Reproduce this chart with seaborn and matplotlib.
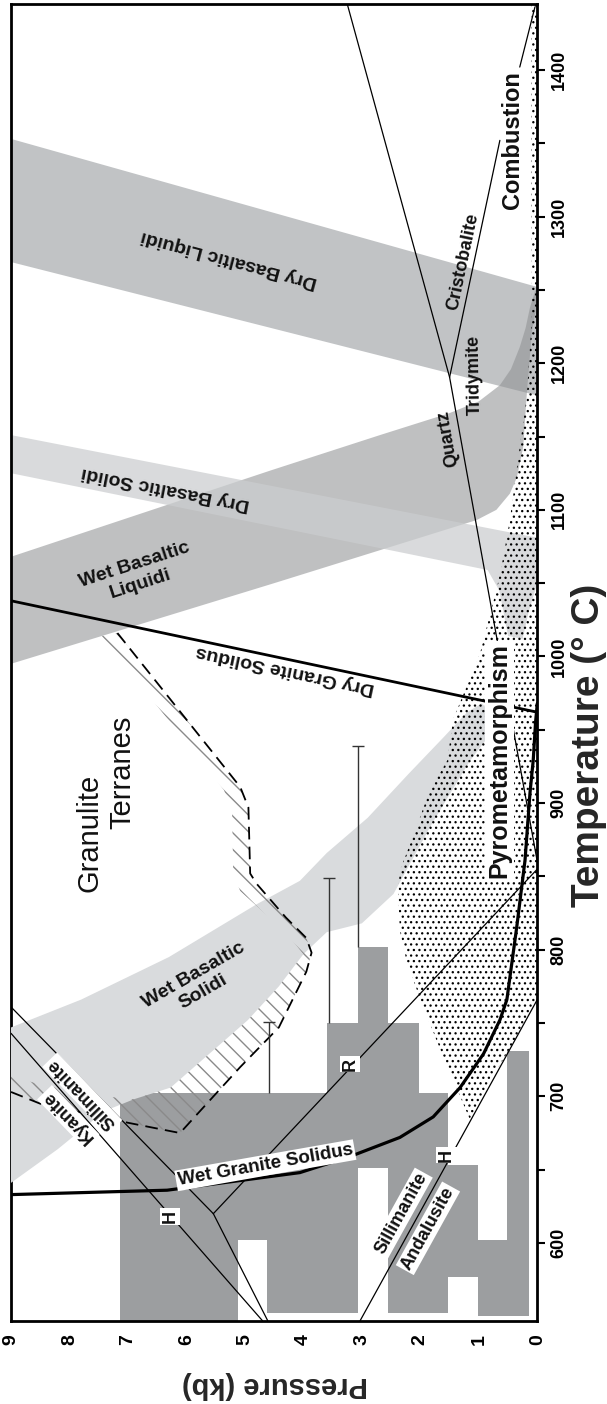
import matplotlib
matplotlib.use("Agg")
import matplotlib.pyplot as plt
import seaborn as sns

# Axis ticks
p_ticks = [0, 1, 2, 3, 4, 5, 6, 7, 8, 9]
p_labels = ["0", "1", "2", "3", "4", "5", "6", "7", "8", "9"]
t_ticks = [600, 650, 700, 750, 800, 850, 900, 950, 1000, 1050, 1100, 1150, 1200, 1250, 1300, 1350, 1400]
t_labels = ["600", "", "700", "", "800", "", "900", "", "1000", "", "1100", "", "1200", "", "1300", "", "1400"]

# Bands (pressure in kb, temperature in C)
dry_liq_p = [9, 0, 0, 9]
dry_liq_t = [1353, 1252, 1178, 1269]

wet_liq_p = [9, 4.55, 2.69, 1.5, 1.0, 0.64, 0.45, 0.30, 0.20, 0.125, 0.04, 0.0,
             0.03, 0.09, 0.18, 0.24, 0.35, 0.47, 0.7, 1.04, 4.5, 9]
wet_liq_t = [1068, 1127, 1151, 1166, 1174, 1185, 1196, 1211, 1224, 1238, 1249, 1252,
             1235, 1222, 1179, 1143, 1122, 1111, 1100, 1093, 1050, 995]

dry_sol_p = [9, 0.0, 0.0, 0.15, 0.25, 0.5, 0.65, 0.85, 9]
dry_sol_t = [1151, 1081, 1050, 1030, 1012, 1014, 1045, 1059, 1125]

wet_sol_p = [9, 7.8, 6.3, 4.8, 4.06, 3.6, 2.9, 2.2, 1.6, 1.2, 0.95, 0.8, 0.75,
             0.9, 1.15, 1.83, 2.46, 3.0, 3.6, 4.0, 4.42, 4.95, 5.61, 6.27, 6.9, 7.4, 8.2, 9]
wet_sol_t = [747, 766, 795, 831, 847, 866, 890, 920, 945, 962, 968, 962, 950,
             942, 929, 884, 838, 818, 812, 797, 775, 752, 729, 706, 698, 690, 664, 641]

# Granulite terranes boundary (dashed) and hatched strip
dash_p = [7.18, 5.08, 4.94, 4.91, 4.80, 4.3, 3.95, 3.86, 3.95, 4.42, 5.08, 6.11, 7.0, 8.5, 9.0]
dash_t = [1016, 911, 897, 852, 845, 822, 808, 798, 785, 747, 720, 675, 682, 695, 703]
inner_p = [7.45, 5.36, 5.22, 5.2, 5.08, 4.3, 4.0, 4.42, 4.95, 5.61, 6.27, 6.9, 7.4, 8.5, 9.0]
inner_t = [1014, 909, 895, 852, 840, 812, 797, 775, 752, 729, 706, 698, 700, 708, 714]

# Pyrometamorphism / combustion stippled field
stip_p = [0, 0.10, 0.10, 0.09, 0.18, 0.30, 0.47, 0.59, 0.69, 0.98, 1.44, 1.54, 1.84, 2.06,
          2.35, 2.38, 2.35, 2.24, 2.0, 1.66, 1.15, 0.81, 0.38, 0]
stip_t = [1445, 1445, 1311, 1234, 1177, 1143, 1093, 1066, 1047, 1002, 957, 929, 909, 884,
          854, 839, 813, 793, 766, 732, 684, 711, 738, 766]

# Histogram blocks
bar_left = [7.13, 5.12, 4.62, 4.06, 3.59, 3.06, 2.55, 2.03, 1.52, 1.01, 0.52]
bar_right = [5.12, 4.62, 4.06, 3.59, 3.06, 2.55, 2.03, 1.52, 1.01, 0.52, 0.15]
bar_bottom = [547, 602, 552, 552, 552, 651, 552, 552, 577, 550, 550]
bar_top = [702, 702, 702, 702, 750, 802, 750, 702, 653, 602, 731]

# Range whiskers
wh_p = [4.58, 3.57, 3.06]
wh_lo = [702, 750, 802]
wh_hi = [751, 849, 939]

# Solidus curves
wet_gran_p = [9, 6.33, 4.06, 3.20, 2.35, 1.78, 1.32, 0.92, 0.64, 0.52, 0.35, 0.21, 0.125, 0.07, 0.03, 0.0]
wet_gran_t = [633, 636, 648, 659, 672, 686, 706, 729, 752, 766, 816, 861, 907, 929, 955, 968]
dry_gran_p = [9, 0]
dry_gran_t = [1038, 962]

# Silica phase boundaries
qc_p, qc_t = [3.25, 1.50], [1445, 1190.5]
qt_p, qt_t = [1.50, 0.0], [1190.5, 860]
tc_p, tc_t = [1.50, 0.64], [1190.5, 1352]

# Aluminosilicate boundaries (R and H)
r_kysil_p, r_kysil_t = [9, 5.54], [761, 620]
r_kyand_p, r_kyand_t = [5.54, 4.61], [620, 547]
r_andsil_p, r_andsil_t = [5.54, 0], [620, 855]
h_kysil_p, h_kysil_t = [9, 4.70], [743, 547]
h_andsil_p, h_andsil_t = [3.03, 0], [547, 766]

comb_p, comb_t = [0.30, 0.04], [1402, 1443]

sns.set_style("white")
plt.rcParams["font.family"] = ["Liberation Sans", "DejaVu Sans"]

fig = plt.figure(figsize=(6.07, 14.04), dpi=100)
ax = fig.add_axes([11 / 607, 1 - 1320.7 / 1404, 526.3 / 607, 1316.7 / 1404])

# Bands
ax.fill(dry_liq_p, dry_liq_t, color="#c1c3c5", lw=0, zorder=1)
ax.fill(wet_liq_p, wet_liq_t, color="#8f9193", alpha=0.57, lw=0, zorder=1.5)
ax.fill(dry_sol_p, dry_sol_t, color="#cbcdcf", alpha=0.73, lw=0, zorder=1.8)

# Histogram blocks
centers = [(a + b) / 2 for a, b in zip(bar_left, bar_right)]
widths = [a - b for a, b in zip(bar_left, bar_right)]
heights = [t - b for t, b in zip(bar_top, bar_bottom)]
ax.bar(centers, heights, width=widths, bottom=bar_bottom, color="#9c9ea0", lw=0, zorder=2.5)

ax.fill(wet_sol_p, wet_sol_t, color="#d9dbdd", lw=0, zorder=3)

plt.rcParams["hatch.linewidth"] = 1.0
ax.fill(dash_p + inner_p[::-1], dash_t + inner_t[::-1], facecolor="none",
        edgecolor="#8a8a8a", hatch="\\\\", lw=0, zorder=3.5)
plt.rcParams["hatch.linewidth"] = 0.9
ax.fill(stip_p, stip_t, facecolor="none", edgecolor="black", hatch="...", lw=0, zorder=4)

# Lines
thin = dict(color="black", lw=0.9, zorder=5)
for xs, ys in [(qc_p, qc_t), (qt_p, qt_t), (tc_p, tc_t), (r_kysil_p, r_kysil_t),
               (r_kyand_p, r_kyand_t), (r_andsil_p, r_andsil_t), (h_kysil_p, h_kysil_t),
               (h_andsil_p, h_andsil_t), (comb_p, comb_t)]:
    sns.lineplot(x=xs, y=ys, sort=False, estimator=None, ax=ax, **thin)

sns.lineplot(x=wet_gran_p, y=wet_gran_t, sort=False, estimator=None, ax=ax, color="black", lw=2.3, zorder=5)
sns.lineplot(x=dry_gran_p, y=dry_gran_t, sort=False, estimator=None, ax=ax, color="black", lw=2.0, zorder=5)
ax.plot(dash_p, dash_t, color="black", lw=1.3, linestyle=(0, (7, 4)), zorder=5)

ax.vlines(wh_p, wh_lo, wh_hi, color="#333333", lw=1.0, zorder=5)
ax.plot(wh_p, wh_hi, ls="none", marker="_", ms=8, mew=1.0, color="#333333", zorder=5)


def label(p, t, s, rot=0, size=14, weight="bold", box=False):
    bbox = dict(boxstyle="square,pad=0.1", fc="white", ec="none") if box else None
    ax.text(p, t, s, rotation=rot, rotation_mode="anchor", ha="center", va="center",
            fontsize=size, fontweight=weight, color="#111111", bbox=bbox, zorder=7)


label(5.27, 1271, "Dry Basaltic Liquidi", rot=165)
label(6.36, 1115, "Dry Basaltic Solidi", rot=169)
label(6.83, 1056, "Wet Basaltic\nLiquidi", rot=18)
label(5.80, 777, "Wet Basaltic\nSolidi", rot=30)
label(4.31, 991, "Dry Granite Solidus", rot=168)
label(4.65, 653, "Wet Granite Solidus", rot=10, size=13.5, box=True)
label(7.65, 880, "Granulite", rot=90, size=21, weight="normal")
label(7.10, 921, "Terranes", rot=90, size=21, weight="normal")
label(0.64, 929, "Pyrometamorphism", rot=90, size=18, box=True)
label(0.43, 1352, "Combustion", rot=90, size=17)
label(1.52, 1149, "Quartz", rot=100, size=13)
label(1.08, 1192, "Tridymite", rot=91, size=13)
label(1.27, 1269, "Cristobalite", rot=78, size=13)
label(7.78, 702, "Sillimanite", rot=134, size=13, box=True)
label(8.02, 686, "Kyanite", rot=134, size=13, box=True)
label(2.33, 620, "Sillimanite", rot=61, size=13, box=True)
label(1.87, 610, "Andalusite", rot=61, size=13, box=True)
label(6.28, 618, "H", rot=90, size=13, box=True)
label(1.55, 660, "H", rot=90, size=13, box=True)
label(3.20, 722, "R", rot=90, size=13, box=True)

# Axes
ax.set_xlim(9, 0)
ax.set_ylim(547, 1445)
ax.set_xticks(p_ticks)
ax.set_xticklabels(p_labels, rotation=90, fontsize=14, fontweight="bold")
ax.yaxis.tick_right()
ax.set_yticks(t_ticks)
ax.set_yticklabels(t_labels, rotation=90, fontsize=13, fontweight="bold", va="center")
ax.tick_params(direction="out", length=5.5, width=1.5, pad=4, colors="black")
for s in ax.spines.values():
    s.set_linewidth(2)
    s.set_color("black")
ax.set_xlabel("")
ax.set_ylabel("")

fig.text(275 / 607, 1 - 1385 / 1404, "Pressure (kb)", rotation=180, ha="center", va="center",
         fontsize=21, fontweight="bold")
fig.text(589 / 607, 1 - 745 / 1404, "Temperature (° C)", rotation=90, ha="center", va="center",
         fontsize=28, fontweight="bold")

fig.savefig("out.png", dpi=100)
